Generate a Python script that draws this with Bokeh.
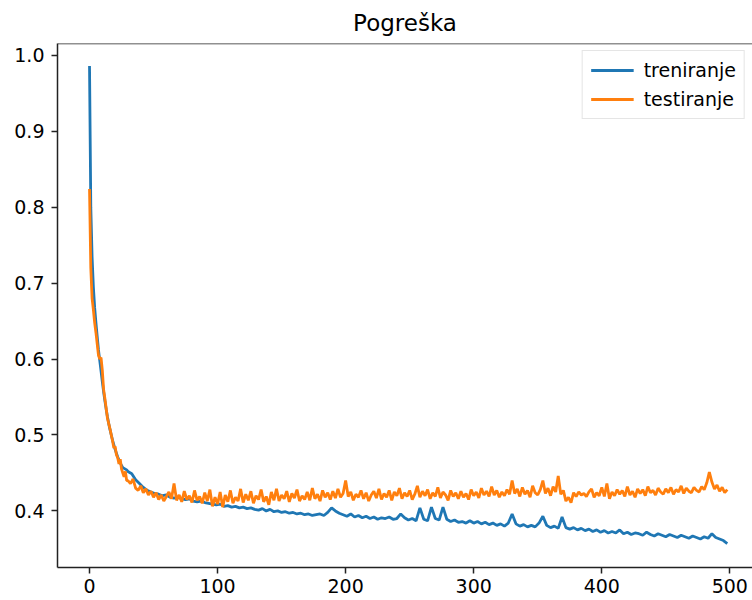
from bokeh.plotting import figure
from bokeh.models import Range1d, FixedTicker, PrintfTickFormatter, Span
from bokeh.embed import file_html
from bokeh.resources import INLINE

# ---- data ----
epochs_early = list(range(0, 30))
train_epochs_late = list(range(30, 499, 3))
test_epochs_late = list(range(30, 499, 2))

train_early = [0.986, 0.800, 0.735, 0.695, 0.668, 0.648, 0.630, 0.612, 0.598, 0.584,
               0.570, 0.557, 0.545, 0.534, 0.524, 0.515, 0.507, 0.500, 0.493, 0.487,
               0.481, 0.476, 0.471, 0.467, 0.463, 0.460, 0.457, 0.456, 0.455, 0.454]
train_late = [0.452, 0.449, 0.441, 0.436, 0.431, 0.427, 0.425, 0.423, 0.422, 0.420,
              0.421, 0.418, 0.417, 0.418, 0.416, 0.415, 0.416, 0.413, 0.412, 0.413,
              0.411, 0.410, 0.409, 0.408, 0.409, 0.406, 0.407, 0.405, 0.406, 0.404,
              0.405, 0.403, 0.404, 0.402, 0.401, 0.403, 0.400, 0.402, 0.399, 0.400,
              0.398, 0.399, 0.397, 0.398, 0.396, 0.397, 0.395, 0.396, 0.394, 0.395,
              0.396, 0.394, 0.398, 0.404, 0.400, 0.397, 0.395, 0.393, 0.396, 0.392,
              0.394, 0.391, 0.393, 0.390, 0.392, 0.389, 0.391, 0.390, 0.392, 0.389,
              0.390, 0.396, 0.391, 0.388, 0.390, 0.387, 0.404, 0.389, 0.387, 0.405,
              0.390, 0.388, 0.405, 0.389, 0.386, 0.388, 0.385, 0.386, 0.384, 0.387,
              0.384, 0.386, 0.383, 0.385, 0.382, 0.384, 0.381, 0.383, 0.380, 0.384,
              0.396, 0.383, 0.380, 0.382, 0.379, 0.381, 0.379, 0.384, 0.393, 0.381,
              0.378, 0.380, 0.377, 0.392, 0.378, 0.376, 0.378, 0.375, 0.377, 0.374,
              0.376, 0.373, 0.375, 0.372, 0.374, 0.371, 0.373, 0.371, 0.375, 0.370,
              0.372, 0.369, 0.371, 0.370, 0.368, 0.372, 0.369, 0.367, 0.370, 0.368,
              0.366, 0.369, 0.367, 0.365, 0.368, 0.366, 0.364, 0.367, 0.365, 0.363,
              0.366, 0.364, 0.370, 0.365, 0.363, 0.361, 0.357]

test_early = [0.824, 0.720, 0.680, 0.665, 0.648, 0.635, 0.620, 0.605, 0.600, 0.602,
              0.585, 0.560, 0.548, 0.535, 0.522, 0.515, 0.508, 0.500, 0.492, 0.483,
              0.485, 0.474, 0.470, 0.462, 0.468, 0.455, 0.450, 0.445, 0.452, 0.440]
test_late = [0.440, 0.436, 0.442, 0.430, 0.427, 0.433, 0.424, 0.429, 0.421, 0.426,
             0.418, 0.424, 0.415, 0.421, 0.413, 0.419, 0.425, 0.416, 0.436, 0.414,
             0.421, 0.412, 0.426, 0.415, 0.420, 0.411, 0.427, 0.414, 0.419, 0.410,
             0.424, 0.413, 0.428, 0.406, 0.418, 0.409, 0.425, 0.405, 0.421, 0.412,
             0.427, 0.410, 0.418, 0.413, 0.429, 0.411, 0.422, 0.414, 0.426, 0.410,
             0.420, 0.415, 0.428, 0.412, 0.419, 0.408, 0.425, 0.414, 0.429, 0.413,
             0.421, 0.416, 0.426, 0.412, 0.423, 0.417, 0.428, 0.413, 0.420, 0.415,
             0.425, 0.414, 0.430, 0.416, 0.422, 0.413, 0.427, 0.418, 0.424, 0.415,
             0.426, 0.417, 0.429, 0.418, 0.423, 0.440, 0.419, 0.425, 0.414, 0.422,
             0.418, 0.427, 0.416, 0.424, 0.413, 0.421, 0.426, 0.417, 0.429, 0.415,
             0.423, 0.418, 0.427, 0.414, 0.425, 0.420, 0.430, 0.416, 0.424, 0.419,
             0.427, 0.415, 0.422, 0.433, 0.418, 0.426, 0.420, 0.428, 0.416, 0.424,
             0.419, 0.431, 0.417, 0.425, 0.421, 0.414, 0.427, 0.419, 0.424, 0.416,
             0.426, 0.418, 0.423, 0.415, 0.428, 0.420, 0.425, 0.417, 0.430, 0.421,
             0.426, 0.419, 0.432, 0.421, 0.427, 0.418, 0.425, 0.420, 0.428, 0.422,
             0.440, 0.423, 0.429, 0.419, 0.431, 0.422, 0.427, 0.418, 0.433, 0.424,
             0.421, 0.428, 0.440, 0.423, 0.430, 0.420, 0.432, 0.425, 0.446, 0.422,
             0.427, 0.413, 0.418, 0.411, 0.424, 0.419, 0.425, 0.421, 0.423, 0.419,
             0.425, 0.429, 0.418, 0.424, 0.420, 0.431, 0.419, 0.436, 0.416, 0.425,
             0.420, 0.428, 0.422, 0.427, 0.419, 0.432, 0.421, 0.426, 0.418, 0.429,
             0.423, 0.428, 0.420, 0.432, 0.424, 0.427, 0.421, 0.430, 0.425, 0.422,
             0.429, 0.424, 0.431, 0.422, 0.428, 0.425, 0.433, 0.423, 0.430, 0.426,
             0.424, 0.431, 0.427, 0.425, 0.432, 0.428, 0.437, 0.451, 0.438, 0.429,
             0.434, 0.426, 0.431, 0.424, 0.428]

train_x = epochs_early + train_epochs_late
train = train_early + train_late
test_x = epochs_early + test_epochs_late
test = test_early + test_late

x_ticks = [0, 100, 200, 300, 400, 500]
y_ticks = [0.4, 0.5, 0.6, 0.7, 0.8, 0.9, 1.0]
title_text = "Pogreška"
series_names = ["treniranje", "testiranje"]
colors = ["#1f77b4", "#ff7f0e"]

FONT = "DejaVu Sans"

p = figure(width=752, height=600, output_backend="svg", toolbar_location=None,
           x_range=Range1d(-25, 517.7), y_range=Range1d(0.3255, 1.0155),
           min_border_left=57, min_border_right=0, min_border_top=43, min_border_bottom=33)

p.title.text = title_text
p.title.align = "center"
p.title.text_font = FONT
p.title.text_font_size = "23px"
p.title.text_font_style = "normal"
p.title.text_color = "black"
p.title.standoff = 15

p.line(train_x, train, line_color=colors[0], line_width=2.8, legend_label=series_names[0])
p.line(test_x, test, line_color=colors[1], line_width=2.8, legend_label=series_names[1])

p.xgrid.visible = False
p.ygrid.visible = False
p.outline_line_color = None
p.add_layout(Span(location=1.0155, dimension="width", line_color="#222222", line_width=1.5))

for ax in (p.xaxis[0], p.yaxis[0]):
    ax.axis_line_color = "#222222"
    ax.axis_line_width = 1.5
    ax.major_tick_line_color = "#222222"
    ax.major_tick_line_width = 1.5
    ax.major_tick_in = 0
    ax.major_tick_out = 6
    ax.minor_tick_line_color = None
    ax.major_label_text_font = FONT
    ax.major_label_text_font_size = "19px"
    ax.major_label_text_color = "black"

p.xaxis[0].ticker = FixedTicker(ticks=x_ticks)
p.xaxis[0].major_label_standoff = 5
p.yaxis[0].ticker = FixedTicker(ticks=y_ticks)
p.yaxis[0].formatter = PrintfTickFormatter(format="%.1f")
p.yaxis[0].major_label_standoff = 7

lg = p.legend[0]
lg.location = "top_right"
lg.margin = 7
lg.padding = 8
lg.spacing = 7
lg.glyph_width = 43
lg.glyph_height = 22
lg.label_height = 22
lg.label_standoff = 10
lg.label_text_font = FONT
lg.label_text_font_size = "19px"
lg.label_text_color = "black"
lg.border_line_color = "#cccccc"
lg.border_line_width = 1
lg.background_fill_alpha = 0.8

open("out.html", "w").write(file_html(p, INLINE))
